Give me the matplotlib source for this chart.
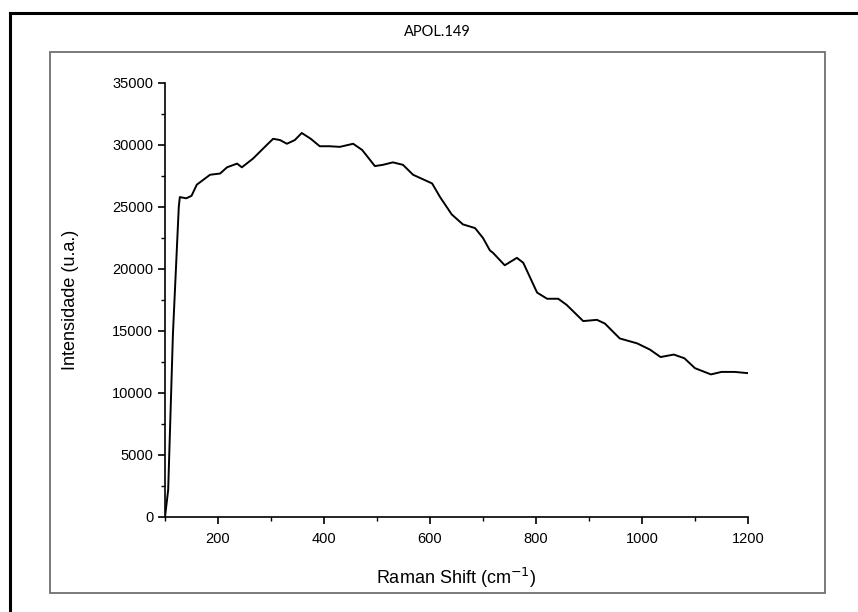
import numpy as np
import matplotlib
matplotlib.use("Agg")
import matplotlib.pyplot as plt
from matplotlib.lines import Line2D
from matplotlib.patches import Rectangle
from matplotlib.ticker import MultipleLocator

# Raman spectrum
shift = [100, 106, 115, 126, 128, 140, 150, 160, 185, 204, 217, 236, 245, 266,
         292, 304, 317, 330, 345, 358, 375, 392, 410, 430, 455, 472, 496, 511,
         530, 549, 568, 604, 619, 641, 662, 685, 700, 713, 719, 741, 764, 776,
         802, 821, 842, 858, 889, 915, 930, 958, 991, 1015, 1035, 1060, 1080,
         1100, 1130, 1150, 1175, 1200]
intensity = [0, 2200, 14800, 25000, 25800, 25700, 25900, 26800, 27600, 27700,
             28200, 28500, 28200, 28900, 30000, 30500, 30400, 30100, 30400,
             30970, 30500, 29900, 29900, 29850, 30100, 29600, 28300, 28400,
             28600, 28400, 27600, 26900, 25800, 24400, 23600, 23300, 22500,
             21500, 21300, 20300, 20900, 20500, 18100, 17600, 17600, 17100,
             15800, 15900, 15600, 14400, 14000, 13500, 12900, 13100, 12800,
             12000, 11500, 11700, 11700, 11600]

title = "APOL.149"
xlabel = "Raman Shift (cm$^{-1}$)"
ylabel = "Intensidade (u.a.)"

W, H = 858, 612
fig = plt.figure(figsize=(W / 100, H / 100), dpi=100)
fig.patch.set_facecolor("white")

# outer black frame (left + top edges visible) and inner gray frame
fig.add_artist(Line2D([10 / W, 10 / W], [0, 1 - 13 / H], color="black", lw=2.2))
fig.add_artist(Line2D([10 / W, 1], [1 - 13 / H, 1 - 13 / H], color="black", lw=2.2))
fig.add_artist(Rectangle((50 / W, 1 - 593 / H), (825 - 50) / W, (593 - 52) / H,
                         fill=False, edgecolor="#707070", lw=1.3))

fig.text(437 / W, 1 - 32 / H, title, ha="center", va="center",
         fontsize=10.5, family=["Lato", "DejaVu Sans"])

ax = fig.add_axes([165 / W, 1 - 517 / H, (748 - 165) / W, (517 - 83) / H])
ax.plot(shift, intensity, color="black", lw=1.4)

ax.set_xlim(100, 1200)
ax.set_ylim(0, 35000)
ax.xaxis.set_major_locator(MultipleLocator(200))
ax.xaxis.set_minor_locator(MultipleLocator(100))
ax.yaxis.set_major_locator(MultipleLocator(5000))
ax.yaxis.set_minor_locator(MultipleLocator(2500))

for s in ["top", "right"]:
    ax.spines[s].set_visible(False)
for s in ["left", "bottom"]:
    ax.spines[s].set_linewidth(1.2)

ax.tick_params(which="major", direction="out", length=5, width=1.2,
               labelsize=10.5)
ax.tick_params(axis="x", which="major", pad=6)
ax.tick_params(which="minor", direction="out", length=3, width=1.0)
for lbl in ax.get_xticklabels() + ax.get_yticklabels():
    lbl.set_family("Liberation Sans")

ax.set_xlabel(xlabel, fontsize=13, family="Liberation Sans", labelpad=14)
ax.set_ylabel(ylabel, fontsize=13, family="Liberation Sans", labelpad=24)

fig.savefig("out.png", dpi=100)
